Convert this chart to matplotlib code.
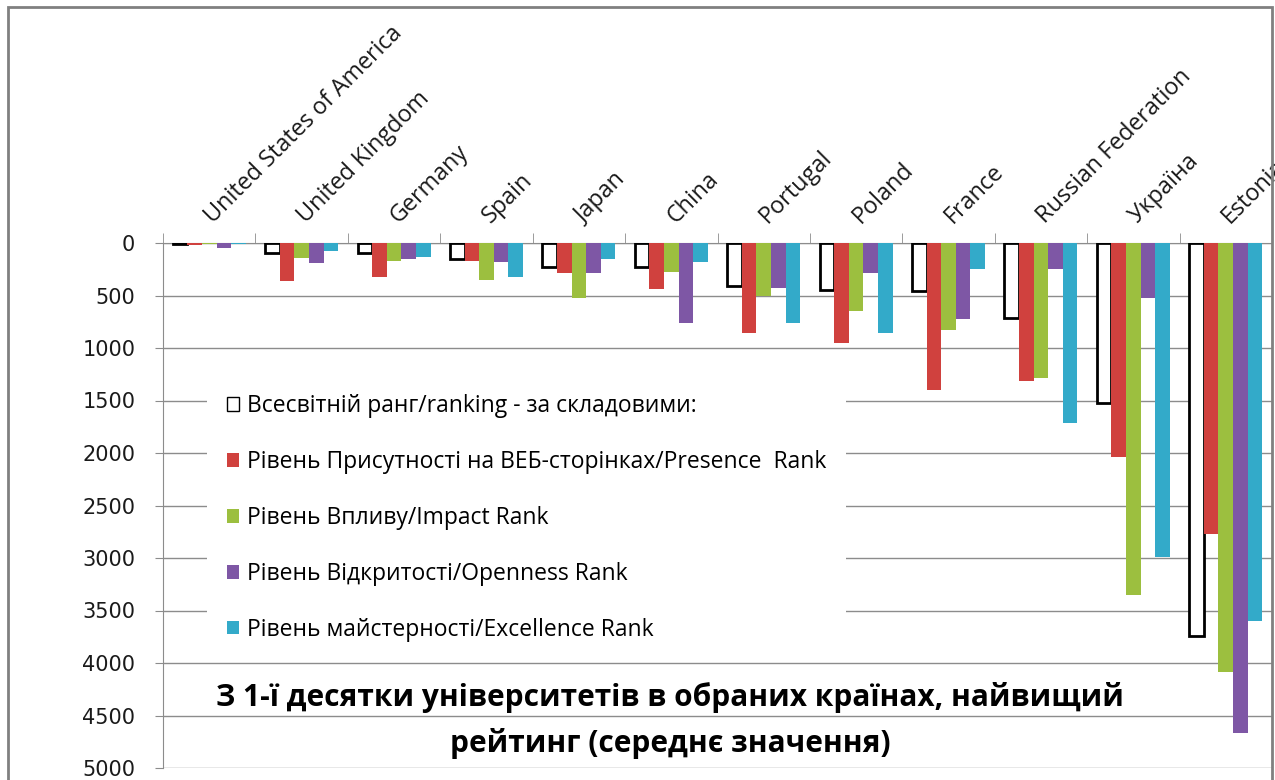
import matplotlib
matplotlib.use("Agg")
import matplotlib.pyplot as plt
import numpy as np
from matplotlib.patches import Patch, Rectangle

plt.rcParams['font.family'] = ['Open Sans', 'DejaVu Sans']

countries = ['United States of America', 'United Kingdom', 'Germany', 'Spain', 'Japan',
             'China', 'Portugal', 'Poland', 'France', 'Russian Federation', 'Україна', 'Estonia']
world_rank = [10, 99, 99, 156, 226, 226, 410, 448, 455, 718, 1522, 3743]
presence = [15, 362, 328, 169, 289, 439, 856, 957, 1396, 1319, 2041, 2769]
impact = [5, 146, 169, 353, 528, 274, 506, 646, 830, 1286, 3353, 4088]
openness = [45, 194, 156, 181, 283, 760, 432, 283, 722, 243, 522, 4662]
excellence = [5, 73, 131, 322, 156, 181, 760, 856, 248, 1719, 2992, 3596]

labels = ['Всесвітній ранг/ranking - за складовими:',
          'Рівень Присутності на ВЕБ-сторінках/Presence  Rank',
          'Рівень Впливу/Impact Rank',
          'Рівень Відкритості/Openness Rank',
          'Рівень майстерності/Excellence Rank']
colors = ['white', '#D0413E', '#9CBF3F', '#7E57A5', '#33AAC9']
title = 'З 1-ї десятки університетів в обраних країнах, найвищий\nрейтинг (середнє значення)'

W, H = 1275, 780
fig = plt.figure(figsize=(W / 100, H / 100), dpi=100)
ax = fig.add_axes([163 / W, 1 - 768 / H, (1272 - 163) / W, (768 - 243) / H])

x = np.arange(len(countries))
bw = 0.158
series = [world_rank, presence, impact, openness, excellence]
for k, vals in enumerate(series):
    pos = x + (k - 2) * bw
    if k == 0:
        ax.bar(pos, vals, width=bw, color='white', edgecolor='black', linewidth=2, zorder=3)
    else:
        ax.bar(pos, vals, width=bw, color=colors[k], linewidth=0, zorder=3)

ax.set_xlim(-0.5, len(countries) - 0.5)
ax.set_ylim(5000, 0)
ax.set_yticks(np.arange(0, 5001, 500))
ax.yaxis.grid(True, color='#8c8c8c', linewidth=1)
ax.set_axisbelow(True)
ax.tick_params(axis='y', length=6, color='#8c8c8c', pad=14, labelsize=15, labelcolor='#1a1a1a')
for t in ax.get_yticklabels():
    t.set_family(['DejaVu Sans'])

ax.xaxis.tick_top()
ax.set_xticks(x)
ax.set_xticklabels(countries, rotation=45, ha='left', va='center', rotation_mode='anchor',
                   fontsize=16.8, color='#1a1a1a')
ax.set_xticks(np.arange(len(countries) + 1) - 0.5, minor=True)
ax.tick_params(axis='x', which='major', length=0, pad=17)
ax.tick_params(axis='x', which='minor', length=7, color='#8c8c8c', top=True, bottom=False)

for side in ['bottom', 'right']:
    ax.spines[side].set_visible(False)
for side in ['top', 'left']:
    ax.spines[side].set_color('#8c8c8c')

handles = [Patch(facecolor=colors[0], edgecolor='black', linewidth=1)]
handles += [Patch(facecolor=c, edgecolor='none') for c in colors[1:]]
leg = ax.legend(handles, labels, loc='upper left', bbox_to_anchor=(0.04, 0.749),
                borderaxespad=0, fontsize=16.5, labelspacing=1.39, handlelength=0.55,
                handleheight=0.55, handletextpad=0.35, frameon=True, fancybox=False,
                framealpha=1, borderpad=0.85)
leg.get_frame().set_edgecolor('none')

ax.text(0.457, 0.091, title, transform=ax.transAxes, ha='center', va='center',
        fontsize=21.5, fontweight='bold', linespacing=1.63, zorder=5)

fig.patches.append(Rectangle((8 / W, -0.1), (1272 - 8) / W, 1.1 - 7 / H, transform=fig.transFigure,
                             fill=False, edgecolor='#808080', linewidth=2))

fig.savefig('out.png', dpi=100)
